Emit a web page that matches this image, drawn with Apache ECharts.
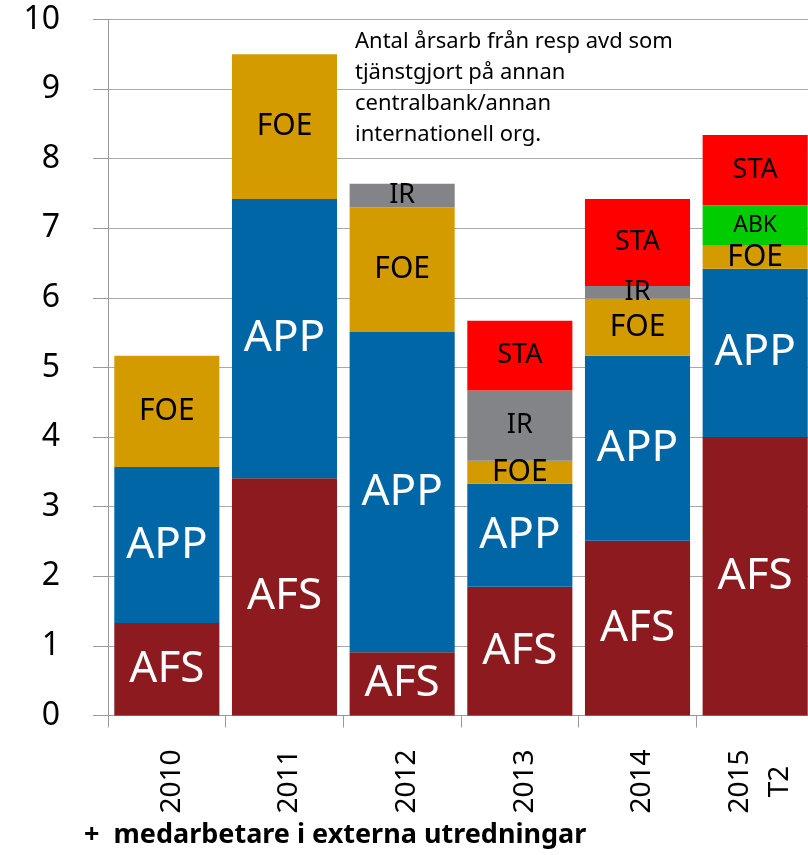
<!DOCTYPE html>
<html>
<head>
<meta charset="utf-8">
<script src="https://cdn.jsdelivr.net/npm/echarts@6/dist/echarts.min.js"></script>
<style>html,body{margin:0;padding:0;background:#fff;overflow:hidden}#c{width:814px;height:855px}</style>
</head>
<body>
<div id="c"></div>
<script>
var categories = ['2010', '2011', '2012', '2013', '2014', '2015\nT2'];
var AFS = [1.33, 3.41, 0.91, 1.85, 2.51, 4.00];
var APP = [2.24, 4.01, 4.60, 1.48, 2.66, 2.42];
var FOE = [1.60, 2.08, 1.79, 0.33, 0.82, 0.33];
var IR  = [0, 0, 0.34, 1.01, 0.18, 0];
var ABK = [0, 0, 0, 0, 0, 0.58];
var STA = [0, 0, 0, 1.00, 1.25, 1.01];
var yTicks = [0, 1, 2, 3, 4, 5, 6, 7, 8, 9, 10];

var FONT = 'Noto Sans';
function clean(a) { return a.map(function (v) { return v === 0 ? '-' : v; }); }
function mk(name, data, color, fs, lc) {
  return {
    name: name, type: 'bar', stack: 'total', data: clean(data),
    barCategoryGap: '10.7%',
    itemStyle: { color: color },
    label: { show: true, position: 'inside', formatter: name, color: lc,
             fontSize: fs, fontFamily: FONT }
  };
}
var chart = echarts.init(document.getElementById('c'), null, { renderer: 'canvas' });
chart.setOption({
  animation: false,
  grid: { left: 108, right: 0, top: 19.5, bottom: 139.5, containLabel: false },
  xAxis: {
    type: 'category', data: categories,
    axisLine: { lineStyle: { color: '#999' } },
    axisTick: { show: true, length: 12, lineStyle: { color: '#999' } },
    axisLabel: { rotate: 90, align: 'center', verticalAlign: 'middle', margin: 66,
                 interval: 0,
                 formatter: function (v) { return v.split('\n').map(function (s) { return '{a|' + s + '}'; }).join('\n'); },
                 rich: { a: { fontSize: 28, color: '#000', fontFamily: FONT, lineHeight: 40,
                              padding: [10, 0, 0, 0] } } }
  },
  yAxis: {
    type: 'value', min: 0, max: 10, interval: 1,
    axisLine: { show: true, lineStyle: { color: '#999' } },
    axisTick: { show: true, length: 15, lineStyle: { color: '#999' } },
    splitLine: { show: true, lineStyle: { color: '#aaa' } },
    axisLabel: { fontSize: 32, color: '#000', fontFamily: FONT, margin: 48,
                 formatter: function (v) { return yTicks.indexOf(v) >= 0 ? String(v) : ''; } }
  },
  series: [
    mk('AFS', AFS, '#8C1A1F', 44, '#fff'),
    mk('APP', APP, '#0066A6', 44, '#fff'),
    mk('FOE', FOE, '#D39B00', 30, '#000'),
    mk('IR', IR, '#828487', 27, '#000'),
    mk('ABK', ABK, '#00CC00', 23, '#000'),
    mk('STA', STA, '#FF0000', 27, '#000')
  ],
  graphic: [
    { type: 'text', left: 355, top: 26,
      style: { text: 'Antal årsarb från resp avd som\ntjänstgjort på annan\ncentralbank/annan\ninternationell org.',
               fontSize: 22, lineHeight: 31, fill: '#000', fontFamily: FONT } },
    { type: 'text', left: 84, top: 822,
      style: { text: '+  medarbetare i externa utredningar', fontSize: 27, fontWeight: 'bold',
               fill: '#000', fontFamily: FONT } }
  ]
});
</script>
</body>
</html>
